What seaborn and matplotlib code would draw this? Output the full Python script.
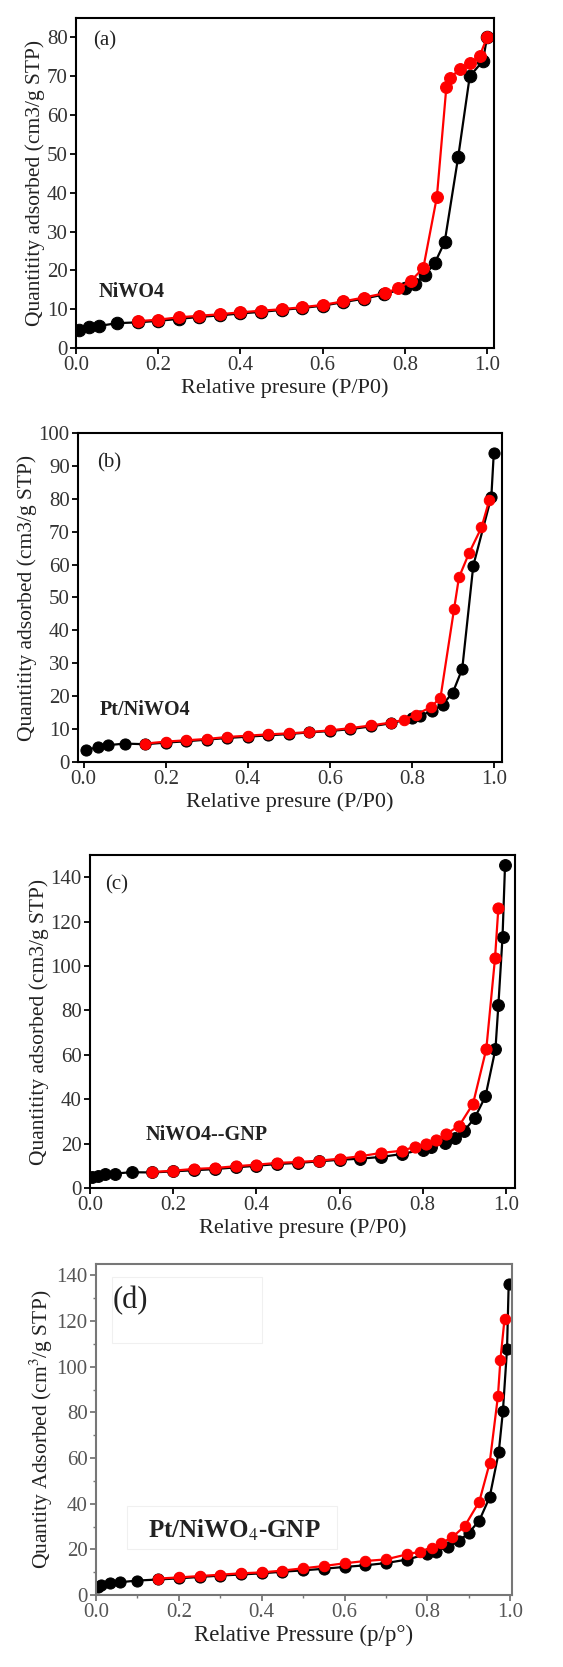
import numpy as np
import pandas as pd
import seaborn as sns
import matplotlib.pyplot as plt
from matplotlib.patches import Rectangle
from matplotlib.ticker import MultipleLocator

# (a) NiWO4
a_ads_x = [0.008, 0.032, 0.057, 0.1, 0.15, 0.2, 0.25, 0.3, 0.35, 0.4, 0.45, 0.5, 0.55, 0.6,
           0.65, 0.7, 0.75, 0.8, 0.824, 0.85, 0.873, 0.897, 0.93, 0.958, 0.99, 1.0]
a_ads_y = [4.7, 5.3, 5.7, 6.4, 6.6, 7.0, 7.5, 8.0, 8.4, 8.9, 9.3, 9.8, 10.3, 10.9,
           11.8, 12.7, 13.8, 15.5, 16.6, 18.9, 21.9, 27.3, 49.3, 70.0, 73.9, 80.0]
a_des_x = [1.0, 0.982, 0.958, 0.934, 0.909, 0.901, 0.878, 0.845, 0.814, 0.784, 0.751, 0.7,
           0.65, 0.6, 0.55, 0.5, 0.45, 0.4, 0.35, 0.3, 0.25, 0.2, 0.15]
a_des_y = [80.0, 75.2, 73.3, 71.8, 69.5, 67.1, 38.9, 20.6, 17.2, 15.4, 14.1, 13.0,
           12.0, 11.1, 10.5, 10.0, 9.6, 9.2, 8.7, 8.3, 7.9, 7.3, 6.9]

# (b) Pt/NiWO4
b_ads_x = [0.006, 0.035, 0.058, 0.1, 0.15, 0.2, 0.25, 0.3, 0.35, 0.4, 0.45, 0.5, 0.55, 0.6,
           0.65, 0.7, 0.75, 0.8, 0.82, 0.85, 0.875, 0.9, 0.923, 0.95, 0.994, 1.0]
b_ads_y = [3.7, 4.5, 5.1, 5.6, 5.4, 5.9, 6.3, 6.8, 7.3, 7.7, 8.1, 8.5, 9.0, 9.4,
           10.0, 10.8, 11.8, 13.3, 14.0, 15.6, 17.4, 21.1, 28.3, 59.7, 80.6, 94.0]
b_des_x = [0.989, 0.97, 0.94, 0.915, 0.903, 0.87, 0.847, 0.81, 0.78, 0.75, 0.7, 0.65,
           0.6, 0.55, 0.5, 0.45, 0.4, 0.35, 0.3, 0.25, 0.2, 0.15]
b_des_y = [79.6, 71.3, 63.6, 56.1, 46.4, 19.6, 16.7, 14.4, 12.8, 12.0, 11.1, 10.3,
           9.6, 9.1, 8.7, 8.4, 8.0, 7.6, 7.0, 6.6, 6.2, 5.6]

# (c) NiWO4--GNP
c_ads_x = [0.006, 0.02, 0.037, 0.059, 0.1, 0.15, 0.2, 0.25, 0.3, 0.35, 0.4, 0.45, 0.5, 0.55,
           0.6, 0.65, 0.7, 0.75, 0.8, 0.82, 0.853, 0.877, 0.9, 0.925, 0.951, 0.975, 0.982,
           0.992, 0.998]
c_ads_y = [5.0, 5.3, 6.3, 6.5, 7.1, 7.0, 7.5, 8.0, 8.5, 9.3, 10.0, 10.8, 11.3, 12.0,
           12.7, 13.2, 14.0, 15.3, 17.3, 18.3, 20.3, 22.5, 25.8, 31.5, 41.3, 62.6, 82.3,
           113.0, 145.3]
c_des_x = [0.982, 0.974, 0.953, 0.921, 0.888, 0.857, 0.833, 0.807, 0.781, 0.75, 0.7, 0.65,
           0.6, 0.55, 0.5, 0.45, 0.4, 0.35, 0.3, 0.25, 0.2, 0.15]
c_des_y = [126.2, 103.6, 62.6, 37.9, 28.1, 24.3, 21.8, 19.8, 18.5, 16.8, 15.8, 14.3,
           13.2, 12.3, 11.7, 11.3, 10.5, 9.8, 9.0, 8.6, 7.8, 7.2]

# (d) Pt/NiWO4-GNP
d_ads_x = [0.006, 0.012, 0.034, 0.058, 0.098, 0.15, 0.2, 0.25, 0.3, 0.35, 0.4, 0.45, 0.5,
           0.55, 0.6, 0.65, 0.7, 0.75, 0.8, 0.82, 0.85, 0.877, 0.9, 0.925, 0.95, 0.972,
           0.982, 0.992, 0.996]
d_ads_y = [3.4, 4.4, 5.1, 5.6, 6.3, 6.8, 7.3, 7.9, 8.5, 9.0, 9.5, 10.2, 10.8,
           11.5, 12.3, 13.0, 14.0, 15.5, 18.0, 19.0, 21.2, 23.8, 27.3, 32.6, 42.8, 62.5,
           80.4, 107.8, 136.2]
d_des_x = [0.986, 0.976, 0.97, 0.95, 0.925, 0.89, 0.86, 0.833, 0.81, 0.783, 0.75, 0.7,
           0.65, 0.6, 0.55, 0.5, 0.45, 0.4, 0.35, 0.3, 0.25, 0.2, 0.15]
d_des_y = [121.0, 103.0, 87.0, 57.7, 40.9, 30.2, 25.3, 22.7, 20.8, 19.0, 17.8, 15.6,
           14.9, 13.9, 12.7, 11.7, 10.7, 9.9, 9.5, 8.9, 8.3, 7.7, 7.2]

sns.set_style("ticks")
plt.rcParams['font.family'] = ['Liberation Serif', 'DejaVu Serif']
plt.rcParams['mathtext.fontset'] = 'stix'

W, H = 563, 1667
fig = plt.figure(figsize=(W / 100, H / 100), dpi=100)


def make_ax(left, right, top, bottom):
    return fig.add_axes([left / W, 1 - bottom / H, (right - left) / W, (bottom - top) / H])


panels = [
    dict(box=(76, 494, 18, 348), ads=(a_ads_x, a_ads_y), des=(a_des_x, a_des_y),
         xlim=(0, 1.017), ylim=(0, 85), ystep=10, tag="(a)", tagpos=(0.04, 0.93),
         name="NiWO4", namepos=(0.053, 0.17), ms=9,
         xlabel="Relative presure (P/P0)", ylabel="Quantitity adsorbed (cm3/g STP)"),
    dict(box=(78, 502, 433, 762), ads=(b_ads_x, b_ads_y), des=(b_des_x, b_des_y),
         xlim=(-0.014, 1.02), ylim=(0, 100), ystep=10, tag="(b)", tagpos=(0.045, 0.91),
         name="Pt/NiWO4", namepos=(0.052, 0.158), ms=8,
         xlabel="Relative presure (P/P0)", ylabel="Quantitity adsorbed (cm3/g STP)"),
    dict(box=(90, 515, 855, 1188), ads=(c_ads_x, c_ads_y), des=(c_des_x, c_des_y),
         xlim=(0, 1.022), ylim=(0, 150), ystep=20, tag="(c)", tagpos=(0.035, 0.91),
         name="NiWO4--GNP", namepos=(0.13, 0.16), ms=8.5,
         xlabel="Relative presure (P/P0)", ylabel="Quantitity adsorbed (cm3/g STP)"),
    dict(box=(96, 512, 1264, 1595), ads=(d_ads_x, d_ads_y), des=(d_des_x, d_des_y),
         xlim=(0, 1.004), ylim=(0, 145), ystep=20, tag="(d)", tagpos=(0.04, 0.89),
         name="Pt/NiWO$_4$-GNP", namepos=(0.125, 0.196), ms=8,
         xlabel="Relative Pressure (p/p°)", ylabel="Quantity Adsorbed (cm$^3$/g STP)"),
]

for i, p in enumerate(panels):
    ax = make_ax(*p["box"])
    last = i == 3
    ads = pd.DataFrame({"x": p["ads"][0], "y": p["ads"][1]})
    des = pd.DataFrame({"x": p["des"][0], "y": p["des"][1]})
    sns.lineplot(data=ads, x="x", y="y", color="black", marker="o", markersize=p["ms"],
                 markeredgecolor="black", linewidth=1.6, sort=False, errorbar=None, ax=ax)
    sns.lineplot(data=des, x="x", y="y", color="#ff0000", marker="o", markersize=p["ms"] - 0.5,
                 markeredgecolor="#ff0000", linewidth=1.6, sort=False, errorbar=None, ax=ax)
    ax.set_xlim(*p["xlim"])
    ax.set_ylim(*p["ylim"])
    ax.set_xticks(np.arange(0, 1.01, 0.2))
    ax.set_yticks(np.arange(0, p["ylim"][1] + 0.1, p["ystep"]))
    tick_col = "#555555" if last else "#333333"
    spine_col = "#777777" if last else "black"
    for s in ax.spines.values():
        s.set_linewidth(1.5)
        s.set_color(spine_col)
    ax.tick_params(direction="out", length=4, width=1.3, labelsize=15,
                   labelcolor=tick_col, color=spine_col, pad=2)
    if last:
        ax.xaxis.set_minor_locator(MultipleLocator(0.1))
        ax.yaxis.set_minor_locator(MultipleLocator(10))
        ax.tick_params(which="minor", direction="out", length=2.5, width=1, color=spine_col)
        ax.add_patch(Rectangle((0.038, 0.76), 0.36, 0.2, transform=ax.transAxes,
                               fill=False, edgecolor="#f0f0f0", linewidth=0.8))
        ax.add_patch(Rectangle((0.075, 0.14), 0.505, 0.13, transform=ax.transAxes,
                               fill=False, edgecolor="#f0f0f0", linewidth=0.8))
    ax.set_xlabel(p["xlabel"], fontsize=16.5 if last else 16, color="#222222", labelpad=2)
    ax.set_ylabel(p["ylabel"], fontsize=15.5, color="#222222", labelpad=1)
    ax.text(p["tagpos"][0], p["tagpos"][1], p["tag"], transform=ax.transAxes,
            fontsize=22 if last else 15, va="center", ha="left", color="#222222")
    ax.text(p["namepos"][0], p["namepos"][1], p["name"], transform=ax.transAxes,
            fontsize=18 if last else 14.5, fontweight="bold", va="center", ha="left",
            color="#222222")

fig.savefig("out.png", dpi=100)
